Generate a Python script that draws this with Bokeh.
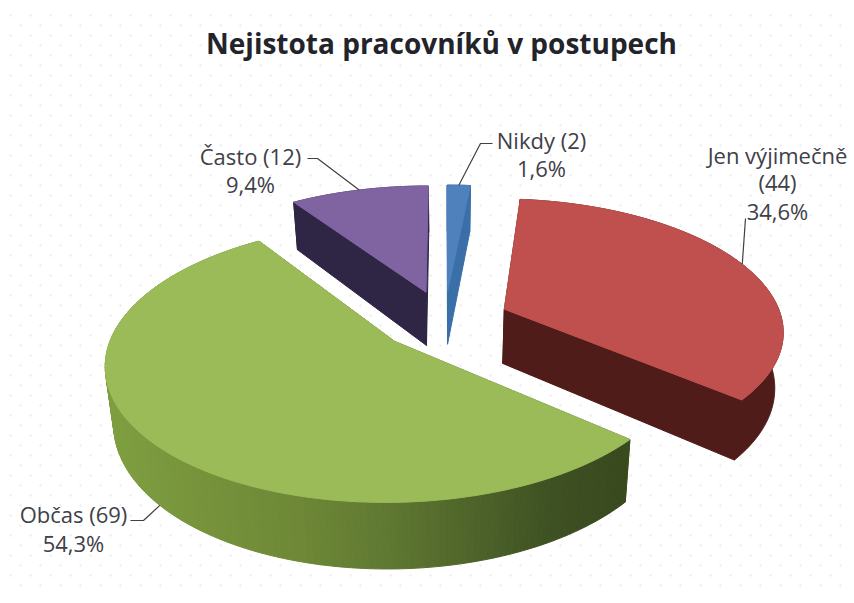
import numpy as np
from bokeh.plotting import figure
from bokeh.models import ColumnDataSource
from bokeh.core.properties import value
from bokeh.embed import file_html
from bokeh.resources import INLINE

title = "Nejistota pracovníků v postupech"
categories = ["Nikdy", "Jen výjimečně", "Občas", "Často"]
counts = [2, 44, 69, 12]
percents = ["1,6%", "34,6%", "54,3%", "9,4%"]

top_colors = ["#4F81BD", "#C0504D", "#9BBB59", "#8064A2"]
wall_colors = ["#3A6FA8", "#4F1C19", "#5E7430", "#2F2545"]

# projection of the exploded 3D pie (page pixels)
CX, CY, RX, RY, PERSP, EXPLODE, DEPTH, BASE = 444, 320, 278, 130, 0.15, 0.235, 55, 0.975


def project(th, mid, rim=1.0, base=False):
    X = EXPLODE * np.sin(mid) + rim * np.sin(th)
    Z = EXPLODE * np.cos(mid) + rim * np.cos(th)
    s = 1 / (1 + PERSP * Z)
    xs = CX + RX * X * s * (BASE if base else 1)
    ys = CY - RY * Z * s + (DEPTH * s if base else 0)
    return xs, ys


p = figure(width=854, height=603, x_range=(0, 854), y_range=(603, 0),
           output_backend="svg", toolbar_location=None, min_border=0,
           background_fill_color="white", border_fill_color="white")
p.axis.visible = False
p.grid.visible = False
p.outline_line_color = None

# dotted background
dx, dy = [], []
for r, y in enumerate(range(15, 592, 10)):
    for x in range(10 + (r % 2) * 10, 848, 20):
        dx.append(x)
        dy.append(y)
p.scatter(dx, dy, size=2.6, color="#EFEFEF", line_color=None)

fracs = np.array(counts) / sum(counts)
ends = np.cumsum(fracs) * 2 * np.pi
starts = ends - fracs * 2 * np.pi
mids = (starts + ends) / 2


def lerp_hex(stops, t):
    ts = [a for a, _ in stops]
    rgb = [np.interp(t, ts, [int(c[i:i + 2], 16) for _, c in stops]) for i in (1, 3, 5)]
    return "#%02x%02x%02x" % tuple(int(v) for v in rgb)


GREEN_RAMP = [(110, "#7F9E40"), (300, "#6E8837"), (380, "#617A33"), (550, "#3F5223"), (625, "#3A4A1F")]

for i in range(4):
    a, b, m = starts[i], ends[i], mids[i]
    th = np.linspace(a, b, 160)
    # cut faces
    for edge in (a, b):
        ax, ay = project(edge, m, rim=0.0)
        ex, ey = project(edge, m)
        abx, aby = project(edge, m, rim=0.0, base=True)
        ebx, eby = project(edge, m, base=True)
        p.patch([ax, ex, ebx, abx], [ay, ey, eby, aby], fill_color=wall_colors[i],
                line_color=wall_colors[i], line_width=1)
    # rim wall
    tx, ty = project(th, m)
    bx, by = project(th, m, base=True)
    if categories[i] == "Občas":
        for k in range(len(th) - 1):
            col = lerp_hex(GREEN_RAMP, (tx[k] + tx[k + 1]) / 2)
            p.patch([tx[k], tx[k + 1], bx[k + 1], bx[k]], [ty[k], ty[k + 1], by[k + 1], by[k]],
                    fill_color=col, line_color=col, line_width=1)
    else:
        p.patch(np.r_[tx, bx[::-1]], np.r_[ty, by[::-1]], fill_color=wall_colors[i],
                line_color=wall_colors[i], line_width=1)
    # top surface
    ax, ay = project(a, m, rim=0.0)
    p.patch(np.r_[ax, tx], np.r_[ay, ty], fill_color=top_colors[i], line_color=top_colors[i], line_width=1)

# leader lines: from a label elbow to the rim at the slice's middle angle
tip = [project(mids[0], mids[0]), project(mids[1], mids[1]),
       project(mids[2], mids[2], base=True), project(mids[3], mids[3])]
stubs = [[(492, 143), (480, 143)], [(745, 218)], [(130, 520), (143, 520)], [(307, 158), (317, 158)]]
for s, t in zip(stubs, tip):
    pts = s + [t]
    p.line([q[0] for q in pts], [q[1] for q in pts], line_color="#404040", line_width=1.2)

FONT = value("Open Sans")
p.text([441], [42], text=[title], text_font=FONT, text_font_size="28px", text_font_style="bold",
       text_color="#22242A", text_align="center", text_baseline="middle")

# labels: one or two name lines, then the percentage
label_src = ColumnDataSource(dict(
    x=[541, 541, 777, 777, 777, 73, 73, 250, 250],
    y=[139, 167, 154, 181, 210, 513, 542, 155, 183],
    t=[f"{categories[0]} ({counts[0]})", percents[0], categories[1], f"({counts[1]})", percents[1],
       f"{categories[2]} ({counts[2]})", percents[2], f"{categories[3]} ({counts[3]})", percents[3]],
))
p.text(x="x", y="y", text="t", source=label_src, text_font=FONT, text_font_size="22px",
       text_color="#404048", text_align="center", text_baseline="middle")

open("out.html", "w").write(file_html(p, INLINE))
